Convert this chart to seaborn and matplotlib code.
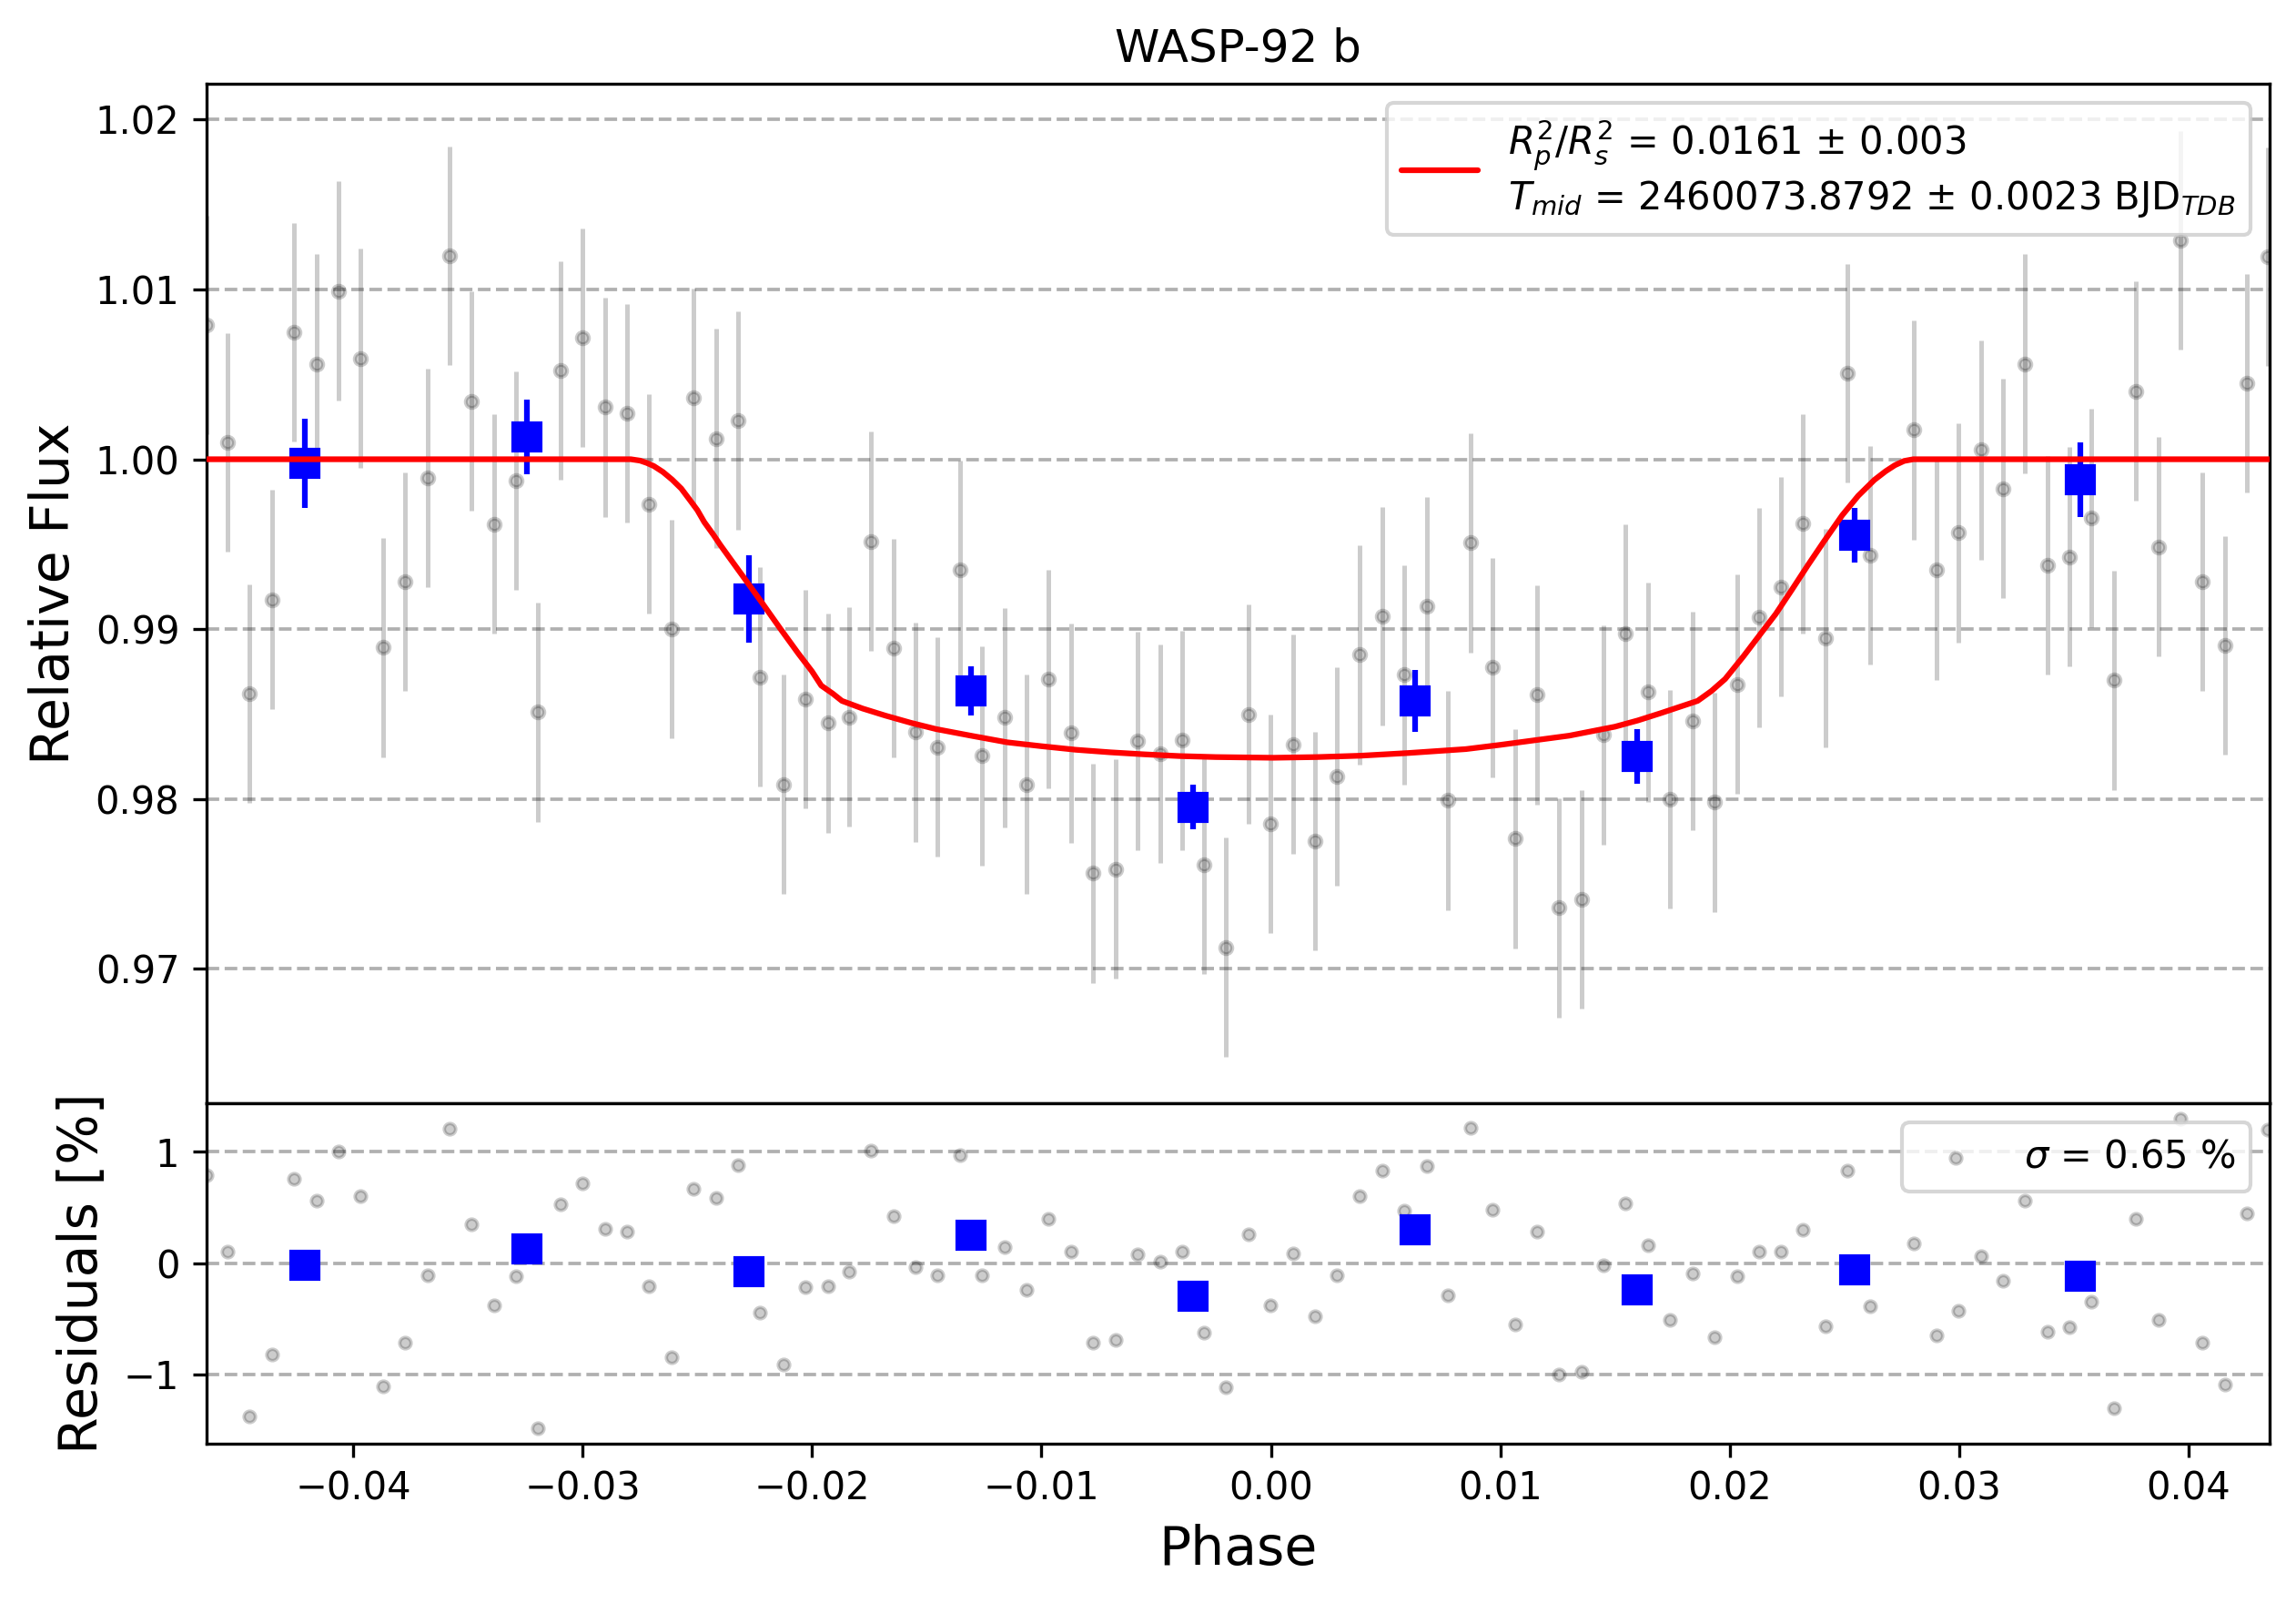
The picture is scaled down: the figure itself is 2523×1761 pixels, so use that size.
import matplotlib
matplotlib.use("Agg")
import matplotlib.pyplot as plt
import seaborn as sns

# unbinned light curve (phase, relative flux, residual in %)
phase = [-0.04640, -0.04549, -0.04453, -0.04355, -0.04259, -0.04159, -0.04065, -0.03969, -0.03869, -0.03775,
         -0.03676, -0.03580, -0.03484, -0.03384, -0.03290, -0.03196, -0.03096, -0.03002, -0.02902, -0.02806,
         -0.02712, -0.02613, -0.02516, -0.02419, -0.02322, -0.02227, -0.02126, -0.02031, -0.01932, -0.01838,
         -0.01744, -0.01644, -0.01548, -0.01454, -0.01354, -0.01258, -0.01160, -0.01066, -0.00970, -0.00870,
         -0.00776, -0.00677, -0.00580, -0.00484, -0.00387, -0.00292, -0.00196, -0.00097, -0.00003, 0.00097,
         0.00192, 0.00288, 0.00386, 0.00484, 0.00581, 0.00678, 0.00772, 0.00871, 0.00966, 0.01065,
         0.01161, 0.01256, 0.01355, 0.01451, 0.01546, 0.01645, 0.01741, 0.01839, 0.01935, 0.02031,
         0.02128, 0.02223, 0.02320, 0.02417, 0.02514, 0.02611, 0.02801, 0.02901, 0.02997, 0.03095,
         0.03191, 0.03287, 0.03385, 0.03481, 0.03577, 0.03674, 0.03771, 0.03870, 0.03963, 0.04059,
         0.04158, 0.04253, 0.04344]
flux = [1.00790, 1.00100, 0.98620, 0.99174, 1.00747, 1.00562, 1.00991, 1.00594, 0.98891, 0.99280,
        0.99890, 1.01199, 1.00342, 0.99619, 0.99874, 0.98510, 1.00523, 1.00716, 1.00307, 1.00271,
        0.99737, 0.99001, 1.00362, 1.00122, 1.00228, 0.98718, 0.98085, 0.98588, 0.98447, 0.98482,
        0.99516, 0.98887, 0.98392, 0.98305, 0.99347, 0.98254, 0.98478, 0.98085, 0.98706, 0.98388,
        0.97562, 0.97586, 0.98341, 0.98266, 0.98344, 0.97613, 0.97125, 0.98498, 0.97853, 0.98321,
        0.97751, 0.98132, 0.98848, 0.99076, 0.98730, 0.99135, 0.97991, 0.99508, 0.98773, 0.97766,
        0.98612, 0.97358, 0.97409, 0.98376, 0.98974, 0.98628, 0.97998, 0.98459, 0.97979, 0.98675,
        0.99068, 0.99249, 0.99620, 0.98946, 1.00507, 0.99434, 1.00173, 0.99347, 0.99567, 1.00055,
        0.99827, 1.00562, 0.99375, 0.99426, 0.99654, 0.98698, 1.00401, 0.99485, 1.01290, 0.99280,
        0.98903, 1.00448, 1.01192]
flux_err = 0.00645
resid = [0.79, 0.10, -1.38, -0.82, 0.76, 0.56, 1.00, 0.60, -1.11, -0.72,
         -0.11, 1.21, 0.35, -0.38, -0.12, -1.49, 0.53, 0.72, 0.31, 0.28,
         -0.21, -0.85, 0.67, 0.59, 0.88, -0.45, -0.91, -0.22, -0.21, -0.08,
         1.01, 0.42, -0.04, -0.11, 0.97, -0.11, 0.14, -0.24, 0.40, 0.10,
         -0.72, -0.69, 0.08, 0.01, 0.10, -0.63, -1.12, 0.26, -0.38, 0.09,
         -0.48, -0.11, 0.60, 0.83, 0.47, 0.87, -0.29, 1.22, 0.48, -0.55,
         0.28, -1.00, -0.98, -0.02, 0.54, 0.16, -0.51, -0.09, -0.67, -0.12,
         0.10, 0.10, 0.30, -0.57, 0.83, -0.39, 0.18, -0.65, -0.43, 0.06,
         -0.16, 0.56, -0.62, -0.58, -0.35, -1.31, 0.40, -0.51, 1.30, -0.72,
         -1.09, 0.45, 1.20]

# binned points
bin_phase = [-0.04212, -0.03243, -0.02275, -0.01307, -0.00338, 0.00630, 0.01598, 0.02545, 0.03529]
bin_flux = [0.99976, 1.00130, 0.99178, 0.98636, 0.97951, 0.98577, 0.98250, 0.99552, 0.99878]
bin_err = [0.00265, 0.00220, 0.00256, 0.00145, 0.00130, 0.00180, 0.00160, 0.00160, 0.00220]
bin_resid = [-0.02, 0.13, -0.08, 0.25, -0.30, 0.30, -0.24, -0.06, -0.12]

# transit model
model_phase = [-0.0465, -0.0279, -0.0275, -0.0272, -0.0269, -0.0265, -0.0261, -0.0257, -0.0253, -0.0250,
               -0.0247, -0.0243, -0.0240, -0.0236, -0.0230, -0.0226, -0.0222, -0.0214, -0.0206, -0.0200,
               -0.0196, -0.0191, -0.0187, -0.0178, -0.0168, -0.0157, -0.0146, -0.0130, -0.0115, -0.0100,
               -0.0085, -0.0070, -0.0055, -0.0040, -0.0024, 0.0001, 0.0020, 0.0039, 0.0060, 0.0085,
               0.0100, 0.0130, 0.0150, 0.0160, 0.0170, 0.0186, 0.0192, 0.0198, 0.0206, 0.0214,
               0.0220, 0.0227, 0.0234, 0.0241, 0.0249, 0.0256, 0.0263, 0.0268, 0.0272, 0.0276,
               0.0280, 0.0436]
model_flux = [1.0, 1.0, 0.99992, 0.99978, 0.99960, 0.99925, 0.99880, 0.99827, 0.99755, 0.99700,
              0.99630, 0.99555, 0.99495, 0.99420, 0.99308, 0.99233, 0.99158, 0.99005, 0.98856, 0.98750,
              0.98667, 0.98620, 0.98577, 0.98532, 0.98490, 0.98448, 0.98411, 0.98370, 0.98333, 0.98310,
              0.98289, 0.98274, 0.98262, 0.98252, 0.98246, 0.98242, 0.98246, 0.98254, 0.98270, 0.98293,
              0.98318, 0.98372, 0.98425, 0.98462, 0.98505, 0.98577, 0.98635, 0.98706, 0.98840, 0.98982,
              0.99088, 0.99230, 0.99375, 0.99515, 0.99670, 0.99785, 0.99878, 0.99930, 0.99965, 0.99990,
              1.0, 1.0]

fit_label = ("$R_{p}^{2}/R_{s}^{2}$ = 0.0161 ± 0.003\n"
             "$T_{mid}$ = 2460073.8792 ± 0.0023 BJD$_{TDB}$")
sigma_label = r"$\sigma$ = 0.65 %"

sns.set_style("ticks", {"axes.edgecolor": "black", "xtick.color": "black", "ytick.color": "black",
                        "axes.labelcolor": "black", "text.color": "black"})
plt.rcParams['font.family'] = ['DejaVu Sans']

fig = plt.figure(figsize=(8.41, 5.87), dpi=300)
gs = fig.add_gridspec(2, 1, height_ratios=[3, 1], hspace=0,
                      left=0.0898, right=0.9885, top=0.9476, bottom=0.0995)
ax = fig.add_subplot(gs[0])
axr = fig.add_subplot(gs[1], sharex=ax)

# top panel
ax.errorbar(phase, flux, yerr=flux_err, fmt='o', ms=3.2, color='black', alpha=0.2,
            elinewidth=1.2, zorder=1)
ax.errorbar(bin_phase, bin_flux, yerr=bin_err, fmt='s', ms=7, color='blue',
            elinewidth=1.5, zorder=2)
sns.lineplot(x=model_phase, y=model_flux, color='red', lw=1.5, ax=ax, label=fit_label, zorder=3)
ax.grid(axis='y', linestyle='--', color='#b0b0b0', lw=0.9)
ax.set_ylim(0.96205, 1.0221)
ax.set_ylabel('Relative Flux', fontsize=14)
ax.set_title('WASP-92 b', fontsize=12)
ax.tick_params(axis='x', bottom=False, labelbottom=False)
ax.legend(loc='upper right', fontsize=10)

# residuals
sns.scatterplot(x=phase, y=resid, color='black', alpha=0.2, s=9, edgecolor='black',
                linewidth=0.9, ax=axr, label=sigma_label, zorder=1)
axr.plot(bin_phase, bin_resid, 's', ms=7, color='blue', zorder=2)
axr.grid(axis='y', linestyle='--', color='#b0b0b0', lw=0.9)
axr.set_ylim(-1.624, 1.435)
axr.set_xlim(-0.04641, 0.04353)
axr.set_ylabel('Residuals [%]', fontsize=14)
axr.set_xlabel('Phase', fontsize=14)
axr.legend(loc='upper right', fontsize=10)

fig.savefig('out.png', dpi=300)
